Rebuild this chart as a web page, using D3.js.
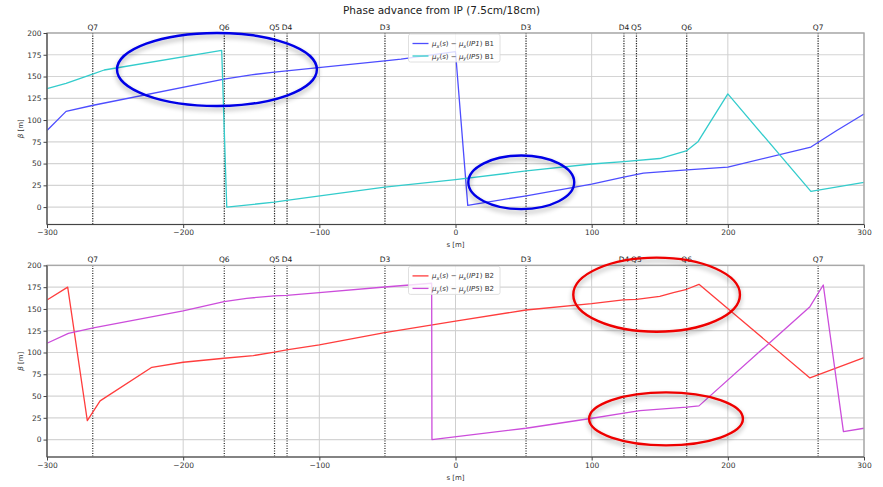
<!DOCTYPE html>
<html>
<head>
<meta charset="utf-8">
<script src="https://cdn.jsdelivr.net/npm/d3@7"></script>
<style>
  html, body { margin: 0; padding: 0; background: #fff; }
  svg { display: block; font-family: "DejaVu Sans", sans-serif; }
</style>
</head>
<body>
<svg id="chart" width="883" height="487"></svg>
<script>
// ---- tick labels / axes ----
const xTicks = [-300, -200, -100, 0, 100, 200, 300];
const yTicks = [0, 25, 50, 75, 100, 125, 150, 175, 200];

// ---- element positions along s [m] ----
const markerNames = ["Q7", "Q6", "Q5", "D4", "D3", "D3", "D4", "Q5", "Q6", "Q7"];
const markerS = [-266.4, -169.8, -132.9, -123.7, -51.8, 51.8, 123.7, 132.9, 169.8, 266.3];

// ---- Beam 1 ----
const b1MuxS = [-300, -286, -266, -170, -150, -133, -124, -52, -40, 0, 9, 52, 100, 123.5, 138, 170, 200, 261, 280, 300];
const b1MuxV = [88, 110, 117, 147, 152, 155, 156.5, 168, 170, 178.5, 2, 13, 26.5, 34.5, 39, 42.8, 46, 69, 88, 107];
const b1MuyS = [-300, -286, -266, -258, -171.7, -168, -133, -124, -52, 0, 52, 100, 123.5, 150, 170, 178, 200, 261, 300];
const b1MuyV = [136, 142, 153, 157.5, 180, 0, 5.7, 7.6, 22.9, 31.5, 41.5, 49.5, 52.3, 55.8, 65, 75, 130, 18, 28.3];

// ---- Beam 2 ----
const b2MuxS = [-300, -284.8, -270.4, -261, -223, -200, -170, -148.5, -133, -124, -100, -52, 0, 51.8, 100, 123.2, 133, 150, 160, 169.8, 178.8, 260.3, 300];
const b2MuxV = [160.3, 175, 21.8, 44.4, 83, 88.8, 93.4, 96.4, 100.3, 103, 108.7, 122.8, 136, 148.8, 156, 160.3, 161, 164.5, 168.7, 172.6, 178.3, 70.8, 94.1];
const b2MuyS = [-300, -284.3, -266, -200, -170, -153.4, -133, -124, -100, -52, -17.5, -17.3, 51.8, 100.3, 123.7, 135.5, 169.8, 178.8, 260.3, 270.1, 284.9, 300];
const b2MuyV = [110.6, 122, 128.2, 147.7, 158.4, 162.2, 164.9, 165.5, 168.7, 175.2, 179.5, 0, 13, 24.5, 30.3, 33.3, 37.2, 38.7, 152.6, 177.5, 9.2, 13];

// ---- highlighted regions (centre s, centre beta, half-width s, half-height beta) ----
const b1RingS = [-175.2, 48.3];
const b1RingV = [158.1, 28.5];
const b1RingRs = [73.4, 38.9];
const b1RingRv = [41.9, 30.8];
const b2RingS = [147.7, 154.6];
const b2RingV = [166.4, 23.8];
const b2RingRs = [61.2, 56.5];
const b2RingRv = [42.5, 30.4];

const svg = d3.select("#chart");
const W = 883;
const left = 47, right = 864;

// drop shadow used under the highlight rings
const defs = svg.append("defs");
const f = defs.append("filter").attr("id", "ringShadow")
  .attr("x", "-20%").attr("y", "-20%").attr("width", "140%").attr("height", "150%");
f.append("feGaussianBlur").attr("in", "SourceAlpha").attr("stdDeviation", 2.5).attr("result", "b");
f.append("feOffset").attr("in", "b").attr("dx", 0).attr("dy", 3).attr("result", "o");
f.append("feComponentTransfer").attr("in", "o").attr("result", "s")
  .append("feFuncA").attr("type", "linear").attr("slope", 0.35);
const fm = f.append("feMerge");
fm.append("feMergeNode").attr("in", "s");
fm.append("feMergeNode").attr("in", "SourceGraphic");

svg.append("text")
  .attr("x", W / 2).attr("y", 14)
  .attr("text-anchor", "middle")
  .attr("font-size", 10.5)
  .attr("fill", "#222")
  .text("Phase advance from IP (7.5cm/18cm)");

const x = d3.scaleLinear().domain([-300, 300]).range([left, right]);

function zip(s, v) { return s.map((d, i) => [d, v[i]]); }

function legendLabel(t, plane, ip, beam) {
  t.append("tspan").attr("font-style", "italic").text("μ");
  t.append("tspan").attr("font-style", "italic").attr("font-size", 5).attr("dy", 1.8).text(plane);
  t.append("tspan").attr("dy", -1.8).text("(");
  t.append("tspan").attr("font-style", "italic").text("s");
  t.append("tspan").text(") − ");
  t.append("tspan").attr("font-style", "italic").text("μ");
  t.append("tspan").attr("font-style", "italic").attr("font-size", 5).attr("dy", 1.8).text(plane);
  t.append("tspan").attr("dy", -1.8).text("(");
  t.append("tspan").attr("font-style", "italic").text(ip);
  t.append("tspan").text(") " + beam);
}

function panel(top, bottom, series, rings, ringColor) {
  const y = d3.scaleLinear().domain([-20, 200]).range([bottom, top]);
  const g = svg.append("g");

  // grid
  g.append("g").selectAll("line").data(yTicks).join("line")
    .attr("x1", left).attr("x2", right)
    .attr("y1", d => y(d)).attr("y2", d => y(d))
    .attr("stroke", "#d4d4d4").attr("stroke-width", 1.2);
  g.append("g").selectAll("line").data(xTicks).join("line")
    .attr("x1", d => x(d)).attr("x2", d => x(d))
    .attr("y1", top).attr("y2", bottom)
    .attr("stroke", "#cfcfcf").attr("stroke-width", 1);

  // element markers
  g.append("g").selectAll("line").data(markerS).join("line")
    .attr("x1", d => x(d)).attr("x2", d => x(d))
    .attr("y1", top).attr("y2", bottom)
    .attr("stroke", "#222").attr("stroke-width", 1.2)
    .attr("stroke-dasharray", "1.2,1.3");
  g.append("g").selectAll("text").data(markerS).join("text")
    .attr("x", d => x(d)).attr("y", top - 3.5)
    .attr("text-anchor", "middle").attr("font-size", 7.5).attr("fill", "#222")
    .text((d, i) => markerNames[i]);

  // curves
  const line = d3.line().x(d => x(d[0])).y(d => y(d[1]));
  series.forEach(sr => {
    g.append("path").datum(zip(sr.s, sr.v))
      .attr("d", line).attr("fill", "none")
      .attr("stroke", sr.color).attr("stroke-width", 1.3)
      .attr("stroke-linejoin", "round");
  });

  // frame
  g.append("rect").attr("x", left).attr("y", top)
    .attr("width", right - left).attr("height", bottom - top)
    .attr("fill", "none").attr("stroke", "#a8a8a8").attr("stroke-width", 1.4);
  g.append("line").attr("x1", left).attr("x2", left).attr("y1", top).attr("y2", bottom)
    .attr("stroke", "#444").attr("stroke-width", 1.1);
  g.append("line").attr("x1", left).attr("x2", right).attr("y1", bottom).attr("y2", bottom)
    .attr("stroke", "#444").attr("stroke-width", 1.1);

  // axes
  const ax = g.append("g").attr("transform", `translate(0,${bottom})`)
    .call(d3.axisBottom(x).tickValues(xTicks).tickSize(3.5).tickPadding(2));
  const ay = g.append("g").attr("transform", `translate(${left},0)`)
    .call(d3.axisLeft(y).tickValues(yTicks).tickSize(3.5).tickPadding(2));
  [ax, ay].forEach(a => {
    a.select(".domain").remove();
    a.selectAll(".tick line").attr("stroke", "#444");
    a.selectAll(".tick text").attr("fill", "#333").attr("font-size", 7.5)
      .attr("font-family", "DejaVu Sans, sans-serif");
  });

  g.append("text").attr("x", (left + right) / 2).attr("y", bottom + 22.5)
    .attr("text-anchor", "middle").attr("font-size", 7).attr("fill", "#333").text("s [m]");
  g.append("text")
    .attr("transform", `translate(23,${(top + bottom) / 2}) rotate(-90)`)
    .attr("text-anchor", "middle").attr("font-size", 7).attr("fill", "#333")
    .call(t => {
      t.append("tspan").attr("font-style", "italic").text("β");
      t.append("tspan").text(" [m]");
    });

  // legend
  const lg = g.append("g").attr("transform", `translate(408.5,${top + 1})`);
  lg.append("rect").attr("width", 91.5).attr("height", 28).attr("rx", 2)
    .attr("fill", "rgba(255,255,255,0.8)").attr("stroke", "#d8d8d8").attr("stroke-width", 0.8);
  series.forEach((sr, i) => {
    const yy = 9.5 + i * 12.5;
    lg.append("line").attr("x1", 4).attr("x2", 20).attr("y1", yy).attr("y2", yy)
      .attr("stroke", sr.color).attr("stroke-width", 1.3);
    const t = lg.append("text").attr("x", 23.5).attr("y", yy + 2.5)
      .attr("font-size", 7).attr("fill", "#333");
    legendLabel(t, sr.plane, sr.ip, sr.beam);
  });

  // highlight rings
  const rg = g.append("g").attr("filter", "url(#ringShadow)");
  rings.s.forEach((cs, i) => {
    rg.append("ellipse")
      .attr("cx", x(cs)).attr("cy", y(rings.v[i]))
      .attr("rx", x(cs + rings.rs[i]) - x(cs))
      .attr("ry", y(rings.v[i] - rings.rv[i]) - y(rings.v[i]))
      .attr("fill", "none").attr("stroke", ringColor).attr("stroke-width", 2.4);
  });
}

panel(33, 224.5,
  [
    { s: b1MuxS, v: b1MuxV, color: "#4d4dff", plane: "x", ip: "IP1", beam: "B1" },
    { s: b1MuyS, v: b1MuyV, color: "#33cccc", plane: "y", ip: "IP5", beam: "B1" }
  ],
  { s: b1RingS, v: b1RingV, rs: b1RingRs, rv: b1RingRv }, "#0000e6");

panel(265.4, 457,
  [
    { s: b2MuxS, v: b2MuxV, color: "#ff3d3d", plane: "x", ip: "IP1", beam: "B2" },
    { s: b2MuyS, v: b2MuyV, color: "#cc4ddb", plane: "y", ip: "IP5", beam: "B2" }
  ],
  { s: b2RingS, v: b2RingV, rs: b2RingRs, rv: b2RingRv }, "#ee0000");
</script>
</body>
</html>
